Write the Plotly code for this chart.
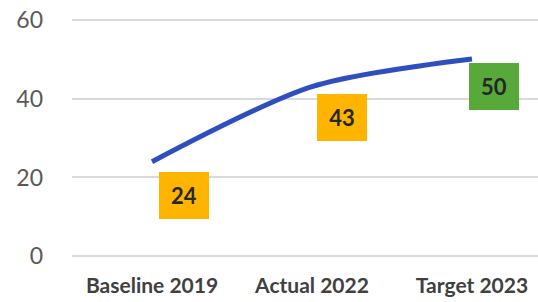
import plotly.graph_objects as go

categories = ["Baseline 2019", "Actual 2022", "Target 2023"]
values = [24, 43, 50]
label_colors = ["#FFB400", "#FFB400", "#57A93A"]
y_ticks = [0, 20, 40, 60]

fig = go.Figure()
fig.add_trace(go.Scatter(
    x=categories, y=values, mode="lines",
    line=dict(color="#2F4FBF", width=5, shape="spline", smoothing=0.8),
    hoverinfo="skip", showlegend=False,
))

shifts = [(32, -34), (30, -31), (22, -27)]
for c, v, col, (dx, dy) in zip(categories, values, label_colors, shifts):
    fig.add_annotation(
        x=c, y=v, text=f"<b>{v}</b>", showarrow=False,
        xshift=dx, yshift=dy, xanchor="center", yanchor="middle",
        bgcolor=col, width=50, height=47, borderpad=0, borderwidth=0,
        font=dict(family="Lato", size=22, color="#262626"),
    )

fig.update_layout(
    width=538, height=302,
    margin=dict(l=72, r=0, t=18, b=44),
    paper_bgcolor="white", plot_bgcolor="white",
    xaxis=dict(
        type="category", range=[-0.5, 2.4125], showgrid=False,
        showline=False, zeroline=False, ticks="", automargin=False,
        tickfont=dict(family="Lato", size=21, color="#404040"),
        ticklabelstandoff=13, ticklabeloverflow="allow",
    ),
    yaxis=dict(
        range=[-0.4, 60.4], tickvals=y_ticks, showgrid=True,
        gridcolor="#D9D9D9", gridwidth=1.5, zeroline=False, showline=False,
        automargin=False, ticklabeloverflow="allow",
        tickfont=dict(family="Lato", size=23, color="#595959"),
        ticklabelstandoff=28,
    ),
)
fig.update_xaxes(tickprefix="<b>", ticksuffix="</b>")
fig.write_html("out.html", config={"displayModeBar": False},
               post_script="document.body.style.margin='0';")
